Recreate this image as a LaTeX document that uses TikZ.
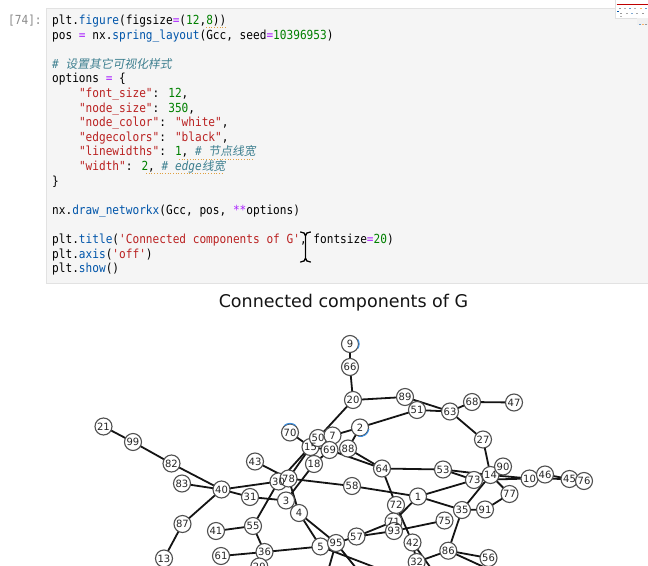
\documentclass[tikz,border=0pt]{standalone}
\usepackage{fontspec}
\usetikzlibrary{backgrounds}
\newfontfamily\codefont{DejaVu Sans Mono}[FakeStretch=0.89,Ligatures=TeXOff]
\newfontfamily\cjkfont{Noto Sans CJK SC}[FakeSlant=0.18]
\newfontfamily\labfont{DejaVu Sans}
\definecolor{kop}{HTML}{AA22FF}
\definecolor{knum}{HTML}{008000}
\definecolor{kstr}{HTML}{BA2121}
\definecolor{kcom}{HTML}{3D7F8F}
\definecolor{kprop}{HTML}{0055AA}
\definecolor{cellbg}{HTML}{F5F5F5}
\definecolor{cellbd}{HTML}{E2E2E2}
\definecolor{promptc}{HTML}{8A8A8A}
\definecolor{nodebd}{HTML}{505050}
\definecolor{edgec}{HTML}{141414}
\definecolor{blueart}{HTML}{3A8DDE}
\definecolor{spell}{HTML}{E0A040}
\newcommand\cop[1]{\textcolor{kop}{#1}}
\newcommand\cnum[1]{\textcolor{knum}{#1}}
\newcommand\cstr[1]{\textcolor{kstr}{#1}}
\newcommand\cprop[1]{\textcolor{kprop}{#1}}
\newcommand\ccom[1]{\textcolor{kcom}{\itshape #1}}
\newcommand\zh[1]{{\cjkfont\fontsize{11.8}{14}\selectfont #1}}
\def\nodelist{9/350/344, 66/350/367, 20/353/400, 89/405/397, 51/417/410, 63/450/411.5, 68/472/402, 47/514/402.5,
21/103.5/426.5, 99/133/442, 82/171.5/463.5, 83/182/483.5, 40/221.5/489.5, 87/182.5/524, 13/164/558.5,
70/290/432.5, 15/310.5/447, 50/318/438, 7/332.5/435.5, 2/360/427.5, 69/329.5/450, 88/348/448.5, 18/314/464,
43/255/461.5, 30/278.5/481.5, 78/288.5/478.5, 58/352/486, 31/250/497, 3/286/500.5, 4/299/513,
64/382/468.5, 53/443/469.5, 27/483/439.5, 73/474/480, 14/490.5/475, 90/503/466.5, 10/529.5/478.5, 46/545/474.5, 45/569.5/479, 76/584/481,
77/509.5/494, 1/418/496.5, 72/396/505, 35/462/510, 91/485/509.5, 75/444.5/520.5,
41/216/531, 55/253/526, 71/393.5/521.5, 93/394/531, 57/356.5/536.5, 5/320.5/546.5, 95/336/543, 42/412.5/542.5,
61/221/556, 36/264.5/552, 86/448.3/550.7, 56/488.5/558, 32/416.7/562, 29/259.3/566.5}
\begin{document}
\begin{tikzpicture}[x=1pt,y=-1pt,
  codeline/.style={anchor=base west,inner sep=0pt,font=\codefont\fontsize{12.5}{14}\selectfont},
  gnode/.style={circle,draw=nodebd,fill=white,line width=1.1pt,minimum size=17pt,inner sep=0pt},
  glabel/.style={inner sep=0pt,font=\labfont\fontsize{10}{10}\selectfont,text=black!85},
  gedge/.style={draw=edgec,line width=1.8pt},
  spellline/.style={draw=spell,line width=0.7pt,dotted},
  artarc/.style={draw=blueart,line width=1pt}]
\useasboundingbox (0,0) rectangle (648,565);
\begin{scope}[on background layer]
  \fill[white] (0,0) rectangle (648,565);
  \filldraw[fill=cellbg,draw=cellbd,line width=0.8pt] (46,8) rectangle (652,283);
\end{scope}
% ---------------- code cell ----------------
\node[codeline] (p0) at (8,24.5) {\textcolor{promptc}{[74]:}};
\node[codeline] (c0) at (52,24.5) {plt.\cprop{figure}(figsize\cop{=}(\cnum{12},\cnum{8}))};
\node[codeline] (c1) at (52,39.1) {pos \cop{=} nx.\cprop{spring\_layout}(Gcc, seed\cop{=}\cnum{10396953})};
\node[codeline] (c3) at (52,68.3) {\ccom{\# \zh{设置其它可视化样式}}};
\node[codeline] (c4) at (52,82.9) {options \cop{=} \{};
\node[codeline] (c5) at (78.8,97.5) {\cstr{"font\_size"}: \cnum{12},};
\node[codeline] (c6) at (78.8,112.1) {\cstr{"node\_size"}: \cnum{350},};
\node[codeline] (c7) at (78.8,126.7) {\cstr{"node\_color"}: \cstr{"white"},};
\node[codeline] (c8) at (78.8,141.3) {\cstr{"edgecolors"}: \cstr{"black"},};
\node[codeline] (c9) at (78.8,155.9) {\cstr{"linewidths"}: \cnum{1}, \ccom{\# \zh{节点线宽}}};
\node[codeline] (c10) at (78.8,170.5) {\cstr{"width"}: \cnum{2}, \ccom{\# edge\zh{线宽}}};
\node[codeline] (c11) at (52,185.1) {\}};
\node[codeline] (c13) at (52,214.3) {nx.\cprop{draw\_networkx}(Gcc, pos, \cop{**}options)};
\node[codeline] (c15) at (52,243.5) {plt.\cprop{title}(\cstr{'Connected components of G'}, fontsize\cop{=}\cnum{20})};
\node[codeline] (c16) at (52,258.1) {plt.\cprop{axis}(\cstr{'off'})};
\node[codeline] (c17) at (52,272.7) {plt.\cprop{show}()};
% spell-check style underlines
\draw[spellline] (206,27.5) -- (227,27.5);
\draw[spellline] (179,159) -- (253,159);
\draw[spellline] (146,173.6) -- (224,173.6);
% text cursor (I-beam)
\foreach \w/\c in {2.8/white,1.3/black}
  \draw[line width=\w pt,draw=\c,line cap=round]
    (300.5,232) .. controls (303.5,232) and (305.5,233.5) .. (305.5,236)
    -- (305.5,258) .. controls (305.5,260.5) and (303.5,262) .. (300.5,262)
    (310.5,232) .. controls (307.5,232) and (305.5,233.5) .. (305.5,236)
    (310.5,262) .. controls (307.5,262) and (305.5,260.5) .. (305.5,258);
% small overlay thumbnail top right
\filldraw[fill=white,draw=black!12,line width=0.5pt] (615,-1) rectangle (649,18);
\draw[red!75!black,line width=0.9pt] (616.5,4) -- (647.5,4);
\foreach \px/\py/\c in {619/8.3/black!40,624/8.3/black!30,629/8.3/kprop!60,634/8.3/black!30,640/8.3/orange!60,645/8.3/kprop!60,
  617/11.7/kprop,620/13.3/black!40,626/13.3/black!35,631/13.3/kprop!50,636/13.3/black!35,642/13.3/black!40,620/16.7/black!30}
  \fill[\c] (\px,\py-0.5) rectangle (\px+2.2,\py+0.5);
\fill[black!6] (637,18) rectangle (649,25);
\foreach \px/\c in {639/kprop!60,642/orange!60,645/black!40}
  \fill[\c] (\px,23.5) rectangle (\px+1.5,24.5);
% ---------------- output ----------------
\node[anchor=base,inner sep=0pt,font=\labfont\fontsize{17.5}{20}\selectfont,text=black!92] (title) at (343.5,307.3) {Connected components of G};
\foreach \id/\px/\py in \nodelist
  \node[gnode] (n\id) at (\px,\py) {};
\foreach \id/\px/\py in \nodelist
  \node[glabel] (t\id) at (n\id) {\id};
\coordinate (o1) at (326,578);
\coordinate (o2) at (364,578);
\coordinate (o3) at (395,575);
\coordinate (o4) at (438,578);
\coordinate (o5) at (486,568);
\begin{scope}[on background layer]
  \foreach \a/\b in {9/66, 66/20, 20/89, 20/50, 89/63, 51/63, 2/51, 63/68, 68/47, 63/27, 27/14,
    21/99, 99/82, 82/40, 83/40, 40/87, 87/13, 40/31, 40/30,
    70/15, 50/30, 15/78, 43/78, 78/58, 78/4, 18/3, 31/3, 3/4, 69/18, 7/2, 2/88, 69/64, 88/64, 50/7, 15/69,
    55/30, 41/55, 55/36, 61/36, 36/5, 36/29,
    4/5, 4/95, 95/57, 57/71, 57/93, 93/75, 5/95,
    64/53, 64/72, 58/1, 1/73, 1/35, 1/71, 72/42, 42/32, 86/32,
    53/73, 53/14, 73/14, 14/90, 73/10, 14/10, 10/46, 46/45, 10/45, 45/76, 14/77, 77/91, 35/91, 14/35, 35/86, 86/56}
    \draw[gedge] (n\a.center) -- (n\b.center);
  \draw[gedge] (n95.center) -- (o1);
  \draw[gedge] (n95.center) -- (o2);
  \draw[gedge] (n5.center) -- (o3);
  \draw[gedge] (n42.center) -- (o4);
  \draw[gedge] (n86.center) -- (o5);
\end{scope}
% compression artefacts (blue arcs)
\draw[artarc] (n70.130) to[bend left=40] (n70.50);
\draw[artarc] (n2.-10) to[bend left=45] (n2.-100);
\draw[artarc] (n9.30) to[bend left=30] (n9.-30);
\end{tikzpicture}
\end{document}
